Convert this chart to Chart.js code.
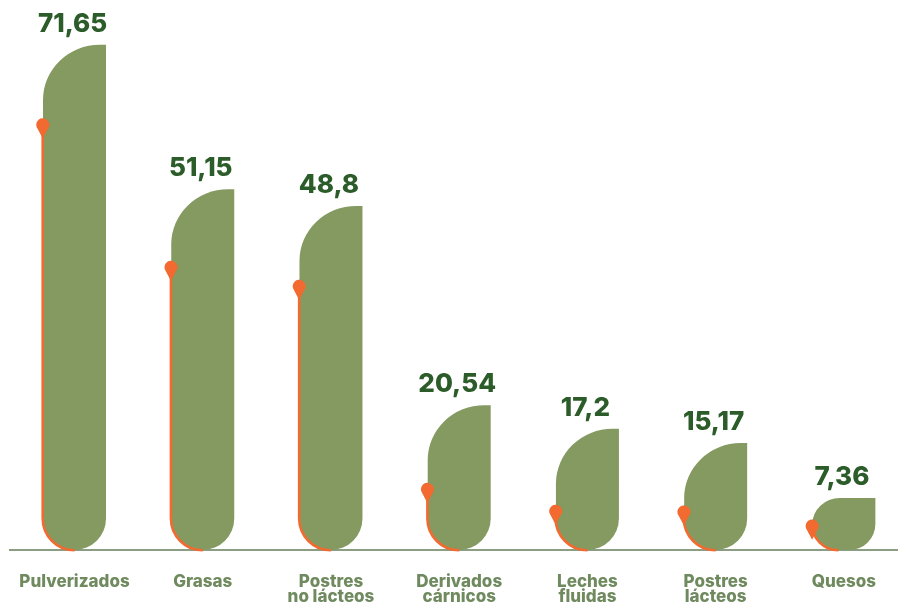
<!DOCTYPE html>
<html>
<head>
<meta charset="utf-8">
<script src="https://cdn.jsdelivr.net/npm/chart.js@4.4.1/dist/chart.umd.min.js"></script>
<style>
  html, body { margin: 0; padding: 0; background: #fff; overflow: hidden; }
  #wrap { width: 908px; height: 603px; }
</style>
</head>
<body>
<div id="wrap"><canvas id="myChart" width="908" height="603"></canvas></div>
<script>
const categories = [
  ["Pulverizados"],
  ["Grasas"],
  ["Postres", "no lácteos"],
  ["Derivados", "cárnicos"],
  ["Leches", "fluidas"],
  ["Postres", "lácteos"],
  ["Quesos"],
];
const values = [71.65, 51.15, 48.8, 20.54, 17.2, 15.17, 7.36];
// orange pin heights
const markers = [60.3, 40.1, 37.4, 8.6, 5.5, 5.4, 3.4];

const colors = {
  bar: "#849a60",
  pin: "#f26a30",
  value: "#2b5c29",
  label: "#6f8a5e",
  axis: "#8b9d82",
};

function fmt(v) {
  return String(v).replace(".", ",");
}

const leafBars = {
  id: "leafBars",
  afterDatasetsDraw(chart) {
    const ctx = chart.ctx;
    const bars = chart.getDatasetMeta(0).data;
    const pins = chart.getDatasetMeta(1).data;
    bars.forEach((bar, i) => {
      const { x, y, base, width } = bar.getProps(["x", "y", "base", "width"], true);
      const x0 = x - width / 2;
      const x1 = x + width / 2;
      const h = base - y;
      const rB = Math.min(width / 2, h / 2);
      const rTy = Math.min(55, h - rB);
      const rTx = Math.min(width * 0.9, rTy * 1.05);

      // bar body
      ctx.save();
      ctx.fillStyle = colors.bar;
      ctx.beginPath();
      ctx.moveTo(x1, y);
      ctx.lineTo(x1, base - rB);
      ctx.arc(x1 - rB, base - rB, rB, 0, Math.PI / 2);
      ctx.lineTo(x0 + rB, base);
      ctx.arc(x0 + rB, base - rB, rB, Math.PI / 2, Math.PI);
      ctx.lineTo(x0, y + rTy);
      ctx.ellipse(x0 + rTx, y + rTy, rTx, rTy, 0, Math.PI, Math.PI * 1.5);
      ctx.closePath();
      ctx.fill();

      // orange line down the left edge
      const py = pins[i].y;
      const lx = x0 - 0.3;
      ctx.strokeStyle = colors.pin;
      ctx.lineWidth = 2.6;
      ctx.beginPath();
      ctx.moveTo(lx, Math.min(py, base - rB));
      ctx.lineTo(lx, base - rB);
      ctx.arc(x0 + rB, base - rB, rB + 0.3, Math.PI, Math.PI / 2, true);
      ctx.stroke();

      // pin head
      const r = 6.5;
      ctx.fillStyle = colors.pin;
      ctx.beginPath();
      ctx.arc(lx, py, r, Math.PI * 0.78, Math.PI * 0.22);
      ctx.lineTo(lx, py + r * 2.1);
      ctx.closePath();
      ctx.fill();

      // value label
      ctx.fillStyle = colors.value;
      ctx.font = "800 26px Inter";
      ctx.textAlign = "center";
      ctx.textBaseline = "alphabetic";
      ctx.fillText(fmt(values[i]), x - 2, y - 13);
      ctx.restore();
    });
  },
};

const ctx = document.getElementById("myChart").getContext("2d");
new Chart(ctx, {
  data: {
    labels: categories,
    datasets: [
      {
        type: "bar",
        data: values,
        backgroundColor: "rgba(0,0,0,0)",
        borderWidth: 0,
        barThickness: 63,
        order: 2,
      },
      {
        type: "line",
        data: markers,
        showLine: false,
        pointRadius: 0,
        order: 1,
      },
    ],
  },
  options: {
    responsive: false,
    animation: false,
    layout: { padding: { left: 10.4, right: 0, top: 0, bottom: 0 } },
    plugins: {
      legend: { display: false },
      tooltip: { enabled: false },
    },
    scales: {
      x: {
        offset: true,
        grid: { display: false, drawTicks: true, tickLength: 24 },
        border: { display: true, color: colors.axis, width: 2 },
        ticks: {
          color: colors.label,
          font: { family: "Inter", size: 17, weight: "800", lineHeight: "15px" },
          padding: 0,
          maxRotation: 0,
          autoSkip: false,
        },
        afterFit(scale) {
          scale.height = 53;
        },
      },
      y: {
        display: false,
        min: 0,
        max: 78,
      },
    },
  },
  plugins: [leafBars],
});
</script>
</body>
</html>
